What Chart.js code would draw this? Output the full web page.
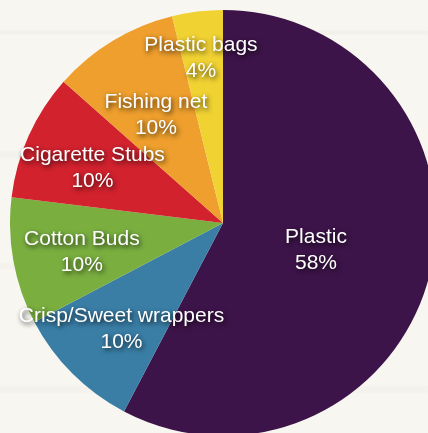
<!DOCTYPE html>
<html>
<head>
<meta charset="utf-8">
<script src="https://cdn.jsdelivr.net/npm/chart.js@4/dist/chart.umd.min.js"></script>
<style>
  html, body { margin: 0; padding: 0; width: 428px; height: 433px; overflow: hidden; }
  body {
    background-color: #f8f6f1;
    background-image:
      linear-gradient(180deg,
        rgba(0,0,0,0) 0px, rgba(0,0,0,0) 30px,
        rgba(232,230,224,0.35) 31px, rgba(232,230,224,0.35) 34px, rgba(0,0,0,0) 35px,
        rgba(0,0,0,0) 150px,
        rgba(234,232,226,0.3) 152px, rgba(234,232,226,0.3) 157px, rgba(0,0,0,0) 159px,
        rgba(0,0,0,0) 262px,
        rgba(236,233,227,0.3) 264px, rgba(236,233,227,0.3) 268px, rgba(0,0,0,0) 270px,
        rgba(0,0,0,0) 385px,
        rgba(236,233,227,0.3) 387px, rgba(236,233,227,0.3) 392px, rgba(0,0,0,0) 394px,
        rgba(0,0,0,0) 433px);
    position: relative;
  }
  #wrap { position: absolute; left: 10px; top: 10px; width: 426px; height: 426px; }
</style>
</head>
<body>
<div id="wrap"><canvas id="c"></canvas></div>
<script>
const categories = ["Plastic", "Crisp/Sweet wrappers", "Cotton Buds", "Cigarette Stubs", "Fishing net", "Plastic bags"];
const values = [60, 10, 10, 10, 10, 4];
const valueLabels = ["58%", "10%", "10%", "10%", "10%", "4%"];
const colors = ["#3d1449", "#3a7ea6", "#7aaf40", "#d1222e", "#ee9f2d", "#f1d233"];

const labelPlugin = {
  id: 'sliceLabels',
  afterDatasetsDraw(chart, args, opts) {
    const ctx = chart.ctx;
    const meta = chart.getDatasetMeta(0);
    meta.data.forEach((arc, i) => {
      const mid = (arc.startAngle + arc.endAngle) / 2 + opts.angleShift[i] * Math.PI / 180;
      const r = arc.outerRadius * opts.radius[i];
      const cx = arc.x + Math.cos(mid) * r;
      const cy = arc.y + Math.sin(mid) * r;
      ctx.save();
      ctx.font = '21px "Liberation Sans", Arial, Helvetica, sans-serif';
      ctx.textAlign = 'center';
      ctx.textBaseline = 'alphabetic';
      ctx.fillStyle = '#ffffff';
      ctx.shadowColor = 'rgba(0,0,0,0.8)';
      ctx.shadowBlur = 5;
      ctx.shadowOffsetX = 1.5;
      ctx.shadowOffsetY = 2;
      ctx.fillText(chart.data.labels[i], cx, cy - 5);
      ctx.fillText(valueLabels[i], cx, cy + 21);
      ctx.restore();
    });
  }
};

new Chart(document.getElementById('c'), {
  type: 'pie',
  data: {
    labels: categories,
    datasets: [{
      data: values,
      backgroundColor: colors,
      borderWidth: 0
    }]
  },
  options: {
    responsive: true,
    maintainAspectRatio: false,
    animation: false,
    layout: { padding: 0 },
    plugins: {
      legend: { display: false },
      tooltip: { enabled: false },
      sliceLabels: {
        radius: [0.452, 0.681, 0.675, 0.668, 0.605, 0.79],
        angleShift: [1.2, -0.6, -0.6, -0.8, -0.2, -0.6]
      }
    }
  },
  plugins: [labelPlugin]
});
</script>
</body>
</html>
